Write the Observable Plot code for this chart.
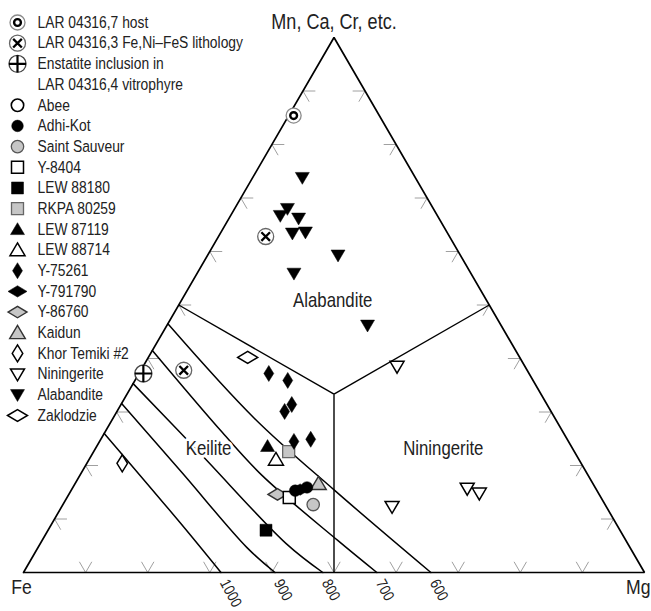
<!DOCTYPE html>
<html><head><meta charset="utf-8">
<script src="https://cdn.jsdelivr.net/npm/d3@7"></script>
<script src="https://cdn.jsdelivr.net/npm/@observablehq/plot@0.6"></script>
<style>
html,body{margin:0;padding:0;background:#fff;}
#wrap{position:relative;width:651px;height:611px;overflow:hidden;background:#fff;}
#wrap svg{position:absolute;left:0;top:0;}
</style></head><body><div id="wrap"></div>
<script>
// ---- data: each point is [Mg, Mn] fraction (Fe = 1 - Mg - Mn) ----
const larHost = [[0.008, 0.854]];
const larLithology = [[0.076, 0.628], [0.069, 0.378]];
const enstatiteInclusion = [[0.007, 0.372]];
const abee = [];
const adhiKot = [[0.361, 0.153], [0.377, 0.159]];
const saintSauveur = [[0.403, 0.127]];
const y8404 = [[0.358, 0.140]];
const lew88180 = [[0.351, 0.079]];
const rkpa80259 = [[0.314, 0.226]];
const lew87119 = [[0.275, 0.236]];
const lew88714 = [[0.301, 0.211]];
const y75261 = [[0.209, 0.372], [0.246, 0.359], [0.270, 0.301], [0.275, 0.314], [0.313, 0.245], [0.338, 0.249]];
const y791790 = [[0.368, 0.155]];
const y86760 = [[0.336, 0.146]];
const kaidun = [[0.392, 0.166]];
const khorTemiki = [[0.057, 0.204]];
const niningerite = [[0.409, 0.385], [0.532, 0.123], [0.636, 0.157], [0.660, 0.148]];
const alabandite = [[0.080, 0.738], [0.085, 0.680], [0.080, 0.667], [0.112, 0.662], [0.116, 0.634],
                    [0.136, 0.636], [0.210, 0.593], [0.156, 0.559], [0.323, 0.462]];
const zaklodzie = [[0.160, 0.402]];

// isotherms (°C), from the Fe–Mn join to the Fe–Mg join, as [Mg, Mn]
const isothermLabels = ["1000", "900", "800", "700", "600"];
const iso1000 = [[0, 0.260], [0.207, 0.092], [0.318, 0]];
const iso900 = [[0, 0.316], [0.164, 0.185], [0.336, 0.047], [0.405, 0]];
const iso800 = [[0, 0.353], [0.174, 0.222], [0.396, 0.054], [0.482, 0]];
const iso700 = [[0, 0.415], [0.189, 0.262], [0.294, 0.181], [0.476, 0.060], [0.569, 0]];
const iso600 = [[0, 0.465], [0.228, 0.288], [0.425, 0.153], [0.656, 0]];
const isotherms = [iso1000, iso900, iso800, iso700, iso600];

const tickFractions = [0.1, 0.2, 0.3, 0.4, 0.5, 0.6, 0.7, 0.8, 0.9];
const vertices = [[0, 0], [1, 0], [0, 1]];
const vertexLabels = ["Fe", "Mg", "Mn, Ca, Cr, etc."];
const centroid = [1 / 3, 1 / 3];
const edgeMidpoints = [[0, 0.5], [0.5, 0.5], [0.5, 0]];
const fieldLabels = ["Alabandite", "Keilite", "Niningerite"];
const fieldLabelPos = [[0.244, 0.508], [0.182, 0.232], [0.560, 0.232]];

const legendLabels = ["LAR 04316,7 host", "LAR 04316,3 Fe,Ni\u2013FeS lithology", "Enstatite inclusion in",
  "LAR 04316,4 vitrophyre", "Abee", "Adhi-Kot", "Saint Sauveur", "Y-8404", "LEW 88180", "RKPA 80259",
  "LEW 87119", "LEW 88714", "Y-75261", "Y-791790", "Y-86760", "Kaidun", "Khor Temiki #2",
  "Niningerite", "Alabandite", "Zaklodzie"];
const legendStyles = ["bullseye", "circleX", "circlePlus", null, "openCircle", "filledCircle", "grayCircle",
  "openSquare", "filledSquare", "graySquare", "filledTri", "openTri", "filledDiamondTall",
  "filledDiamondWide", "grayDiamondWide", "grayTri", "openDiamondTall", "openTriDown",
  "filledTriDown", "openDiamondWide"];

// ---- symbols ----
function poly(pts) {
  return {draw(ctx, size) {
    const r = Math.sqrt(size / Math.PI);
    ctx.moveTo(pts[0][0] * r, pts[0][1] * r);
    for (let i = 1; i < pts.length; i++) ctx.lineTo(pts[i][0] * r, pts[i][1] * r);
    ctx.closePath();
  }};
}
const triUpSym = poly([[0, -0.95], [1, 0.75], [-1, 0.75]]);
const triDownSym = poly([[-1, -0.75], [1, -0.75], [0, 0.95]]);
const diamondTallSym = poly([[0, -1], [0.62, 0], [0, 1], [-0.62, 0]]);
const diamondWideSym = poly([[-1, 0], [0, -0.6], [1, 0], [0, 0.6]]);
const squareSym = poly([[-0.8, -0.8], [0.8, -0.8], [0.8, 0.8], [-0.8, 0.8]]);
const plusSym = {draw(ctx, size) {
  const r = Math.sqrt(size / Math.PI);
  ctx.moveTo(-r, 0); ctx.lineTo(r, 0); ctx.moveTo(0, -r); ctx.lineTo(0, r);
}};
const timesSym = {draw(ctx, size) {
  const r = Math.sqrt(size / Math.PI) * 0.72;
  ctx.moveTo(-r, -r); ctx.lineTo(r, r); ctx.moveTo(r, -r); ctx.lineTo(-r, r);
}};
const GRAY = "#c6c6c6";
const S = {
  bullseye: [{symbol: "circle", r: 7.5, fill: "white", stroke: "#8a8a8a", strokeWidth: 1.3},
             {symbol: "circle", r: 3.4, fill: "white", stroke: "black", strokeWidth: 2.4}],
  circleX: [{symbol: "circle", r: 8, fill: "white", stroke: "#666", strokeWidth: 1.3},
            {symbol: timesSym, r: 6, fill: "none", stroke: "black", strokeWidth: 2.3}],
  circlePlus: [{symbol: "circle", r: 8.5, fill: "white", stroke: "#444", strokeWidth: 1.4},
               {symbol: plusSym, r: 8.5, fill: "none", stroke: "black", strokeWidth: 2.2}],
  openCircle: [{symbol: "circle", r: 6.2, fill: "white", stroke: "black", strokeWidth: 1.6}],
  filledCircle: [{symbol: "circle", r: 5.8, fill: "black", stroke: "black", strokeWidth: 0.5}],
  grayCircle: [{symbol: "circle", r: 6.2, fill: GRAY, stroke: "#555", strokeWidth: 1.3}],
  openSquare: [{symbol: squareSym, r: 7.5, fill: "white", stroke: "black", strokeWidth: 1.5}],
  filledSquare: [{symbol: squareSym, r: 7.5, fill: "black", stroke: "black", strokeWidth: 0.5}],
  graySquare: [{symbol: squareSym, r: 7.5, fill: GRAY, stroke: "#666", strokeWidth: 1.3}],
  filledTri: [{symbol: triUpSym, r: 7, fill: "black", stroke: "black", strokeWidth: 0.5}],
  openTri: [{symbol: triUpSym, r: 7.5, fill: "white", stroke: "black", strokeWidth: 1.5}],
  filledDiamondTall: [{symbol: diamondTallSym, r: 8, fill: "black", stroke: "black", strokeWidth: 0.5}],
  filledDiamondWide: [{symbol: diamondWideSym, r: 9.5, fill: "black", stroke: "black", strokeWidth: 0.5}],
  grayDiamondWide: [{symbol: diamondWideSym, r: 9.5, fill: GRAY, stroke: "#333", strokeWidth: 1.4}],
  grayTri: [{symbol: triUpSym, r: 7.8, fill: GRAY, stroke: "#333", strokeWidth: 1.4}],
  openDiamondTall: [{symbol: diamondTallSym, r: 8.5, fill: "white", stroke: "black", strokeWidth: 1.5}],
  openTriDown: [{symbol: triDownSym, r: 7, fill: "white", stroke: "black", strokeWidth: 1.5}],
  filledTriDown: [{symbol: triDownSym, r: 7, fill: "black", stroke: "black", strokeWidth: 0.5}],
  openDiamondWide: [{symbol: diamondWideSym, r: 10, fill: "white", stroke: "black", strokeWidth: 1.5}]
};
function dots(data, x, y, key) {
  return S[key].map(l => Plot.dot(data, {x, y, symbol: l.symbol, r: l.r, fill: l.fill,
    stroke: l.stroke, strokeWidth: l.strokeWidth}));
}

// ternary projection
const X = d => d[0] + d[1] / 2;
const Y = d => d[1];

const FONT = "'Liberation Sans', Arial, sans-serif";
const NARROW = 0.84; // horizontal condensing of all text

// tick chevrons along each edge
const tk = 0.02;
const tickSegs = [];
for (const t of tickFractions) {
  tickSegs.push([[t, 0], [t, tk]], [[t, 0], [t - tk, tk]]);
  tickSegs.push([[0, t], [tk, t]], [[0, t], [tk, t - tk]]);
  tickSegs.push([[1 - t, t], [1 - t - tk, t]], [[1 - t, t], [1 - t, t - tk]]);
}
const isoEnds = isotherms.map((p, i) => ({end: p[p.length - 1], label: isothermLabels[i]}));

const series = [
  [alabandite, "filledTriDown"], [niningerite, "openTriDown"], [zaklodzie, "openDiamondWide"],
  [khorTemiki, "openDiamondTall"], [lew87119, "filledTri"], [rkpa80259, "graySquare"],
  [lew88714, "openTri"], [y75261, "filledDiamondTall"], [y86760, "grayDiamondWide"],
  [y8404, "openSquare"], [lew88180, "filledSquare"], [saintSauveur, "grayCircle"],
  [kaidun, "grayTri"], [y791790, "filledDiamondWide"], [adhiKot, "filledCircle"],
  [abee, "openCircle"], [larLithology, "circleX"], [enstatiteInclusion, "circlePlus"],
  [larHost, "bullseye"]
];

const main = Plot.plot({
  width: 651, height: 611,
  marginLeft: 23, marginRight: 7, marginTop: 37, marginBottom: 39,
  x: {domain: [0, 1], axis: null},
  y: {domain: [0, 1], axis: null},
  style: {fontFamily: FONT, background: "white", color: "black"},
  marks: [
    Plot.link(tickSegs, {x1: s => X(s[0]), y1: s => Y(s[0]), x2: s => X(s[1]), y2: s => Y(s[1]),
      stroke: "#a0a0a0", strokeWidth: 1}),
    Plot.link(edgeMidpoints, {x1: () => X(centroid), y1: () => Y(centroid), x2: X, y2: Y,
      stroke: "black", strokeWidth: 1.4}),
    ...isotherms.map(p => Plot.line(p, {x: X, y: Y, curve: "catmull-rom", stroke: "black", strokeWidth: 1.5})),
    Plot.line([...vertices, vertices[0]], {x: X, y: Y, stroke: "black", strokeWidth: 1.7,
      strokeLinejoin: "miter"}),
    Plot.text(isoEnds, {x: d => X(d.end), y: d => Y(d.end), text: d => d.label,
      rotate: 62, textAnchor: "start", dx: 3, dy: 8, fontSize: 15.5, fill: "#222"}),
    Plot.text(fieldLabels, {x: (d, i) => X(fieldLabelPos[i]), y: (d, i) => Y(fieldLabelPos[i]),
      text: d => d, fontSize: 20, fill: "#222", stroke: "white", strokeWidth: 6}),
    Plot.text([vertexLabels[0]], {x: () => X(vertices[0]), y: () => Y(vertices[0]), text: d => d,
      fontSize: 21, dx: -2, dy: 15, fill: "#222"}),
    Plot.text([vertexLabels[1]], {x: () => X(vertices[1]), y: () => Y(vertices[1]), text: d => d,
      fontSize: 21, dx: 6, dy: 15, textAnchor: "end", fill: "#222"}),
    Plot.text([vertexLabels[2]], {x: () => X(vertices[2]), y: () => Y(vertices[2]), text: d => d,
      fontSize: 21.5, dx: 0, dy: -15, fill: "#222"}),
    ...series.flatMap(([data, key]) => dots(data, X, Y, key))
  ]
});

const rows = legendLabels.map((label, i) => ({label, i, style: legendStyles[i]}));
const legend = Plot.plot({
  width: 260, height: 430,
  margin: 0,
  x: {domain: [0, 1], range: [17, 37], axis: null},
  y: {domain: [0, 19], range: [22, 415], axis: null},
  style: {fontFamily: FONT, background: "transparent", color: "black", overflow: "visible"},
  marks: [
    ...Object.keys(S).flatMap(key => dots(rows.filter(r => r.style === key), () => 0, r => r.i, key)),
    Plot.text(rows, {x: () => 1, y: r => r.i, text: r => r.label, textAnchor: "start",
      fontSize: 16.5, fill: "#222"})
  ]
});

// condense text horizontally (narrow typeface look)
for (const svg of [main, legend]) {
  svg.querySelectorAll("text").forEach(t => {
    let tr = t.getAttribute("transform");
    if (!tr) {
      const x = +t.getAttribute("x") || 0, y = +t.getAttribute("y") || 0;
      t.removeAttribute("x"); t.removeAttribute("y");
      tr = `translate(${x},${y})`;
    }
    t.setAttribute("transform", `${tr} scale(${NARROW},1)`);
  });
}

const wrap = document.getElementById("wrap");
wrap.appendChild(main);
wrap.appendChild(legend);
</script></body></html>
